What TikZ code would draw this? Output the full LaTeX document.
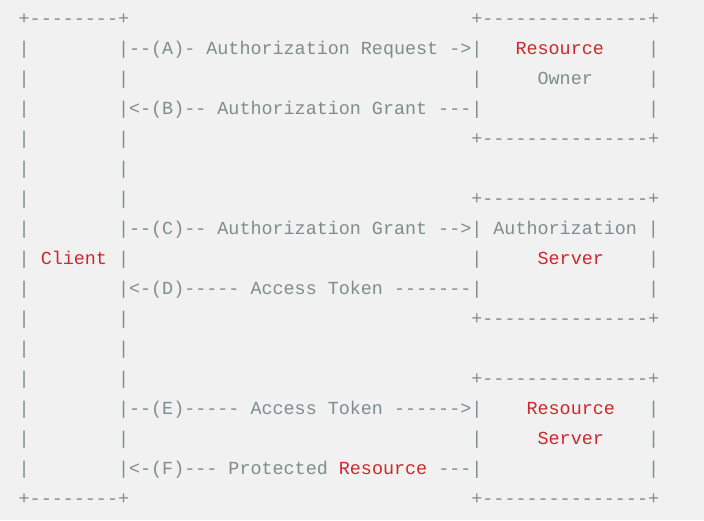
\documentclass[tikz,border=0pt]{standalone}
\usepackage{fontspec}
\setmonofont{Liberation Mono}

\definecolor{asciigray}{RGB}{127,140,141}
\definecolor{asciired}{RGB}{205,40,45}
\definecolor{pagebg}{RGB}{241,241,241}

% red words and runs of blank columns
\newcommand\hl[1]{\textcolor{asciired}{#1}}
\newcommand\gap[1]{\kern#1\fontcharwd\font`x\relax}

\tikzset{
		row/.style={anchor=base west, inner sep=0pt, text=asciigray, font=\ttfamily\fontsize{18.4}{30}\selectfont},
		page/.style={fill=pagebg}
	}

\begin{document}
\begin{tikzpicture}[x=1pt,y=-1pt]

\fill [page] (0,0) rectangle (704,520);

\node (r0) at (18.5,24) [row] {+--------+\gap{31}+---------------+};
\node (r1) at (18.5,54) [row] {|\gap{8}|--(A)- Authorization Request ->|\gap{3}\hl{Resource}\gap{4}|};
\node (r2) at (18.5,84) [row] {|\gap{8}|\gap{31}|\gap{5}Owner\gap{5}|};
\node (r3) at (18.5,114) [row] {|\gap{8}|<-(B)-- Authorization Grant ---|\gap{15}|};
\node (r4) at (18.5,144) [row] {|\gap{8}|\gap{31}+---------------+};
\node (r5) at (18.5,174) [row] {|\gap{8}|};
\node (r6) at (18.5,204) [row] {|\gap{8}|\gap{31}+---------------+};
\node (r7) at (18.5,234) [row] {|\gap{8}|--(C)-- Authorization Grant -->| Authorization |};
\node (r8) at (18.5,264) [row] {| \hl{Client} |\gap{31}|\gap{5}\hl{Server}\gap{4}|};
\node (r9) at (18.5,294) [row] {|\gap{8}|<-(D)----- Access Token -------|\gap{15}|};
\node (r10) at (18.5,324) [row] {|\gap{8}|\gap{31}+---------------+};
\node (r11) at (18.5,354) [row] {|\gap{8}|};
\node (r12) at (18.5,384) [row] {|\gap{8}|\gap{31}+---------------+};
\node (r13) at (18.5,414) [row] {|\gap{8}|--(E)----- Access Token ------>|\gap{4}\hl{Resource}\gap{3}|};
\node (r14) at (18.5,444) [row] {|\gap{8}|\gap{31}|\gap{5}\hl{Server}\gap{4}|};
\node (r15) at (18.5,474) [row] {|\gap{8}|<-(F)--- Protected \hl{Resource} ---|\gap{15}|};
\node (r16) at (18.5,504) [row] {+--------+\gap{31}+---------------+};

\end{tikzpicture}
\end{document}
